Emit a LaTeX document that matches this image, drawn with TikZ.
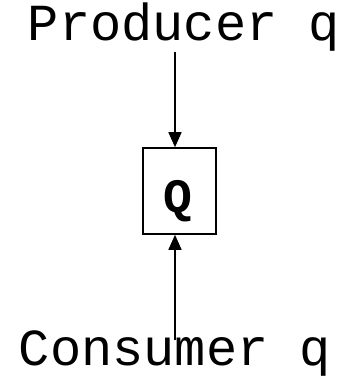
\documentclass[tikz,border=0pt]{standalone}
\usepackage{fontspec}
\setmonofont{Liberation Mono}
\usetikzlibrary{arrows.meta}
\begin{document}
\begin{tikzpicture}[x=1pt,y=-1pt,
  lbl/.style={font=\ttfamily\fontsize{52}{60}\selectfont, inner sep=0pt, anchor=base},
  qbox/.style={draw, line width=1.6pt, minimum width=73pt, minimum height=86pt, inner sep=0pt},
  qtext/.style={font=\ttfamily\bfseries\fontsize{48}{56}\selectfont, inner sep=0pt, anchor=base},
  flow/.style={line width=1.6pt, -{Triangle[length=15pt,width=13pt]}}]
  \useasboundingbox (0,0) rectangle (351,376);
  \node[lbl] (prod) at (184,40) {Producer q};
  \node[lbl] (cons) at (175,365) {Consumer q};
  \node[qbox] (box) at (179.5,191) {};
  \node[qtext] (q) at (178,212) {Q};
  \coordinate (ax) at (175,0);
  \draw[flow] ([yshift=-12pt]prod.base -| ax) -- (box.north -| ax);
  \draw[flow] ([yshift=25pt]cons.base -| ax) -- (box.south -| ax);
\end{tikzpicture}
\end{document}
